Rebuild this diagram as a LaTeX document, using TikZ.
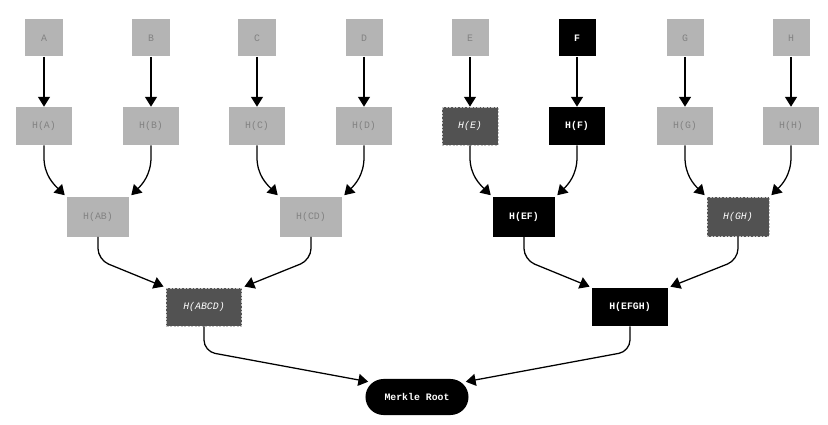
\documentclass[tikz,border=0pt]{standalone}
\usepackage{fontspec}
\setmonofont{Liberation Mono}
\usetikzlibrary{arrows.meta,shapes.misc}
\definecolor{fadedfill}{RGB}{180,180,180}
\definecolor{fadedtext}{RGB}{130,130,130}
\definecolor{prooffill}{RGB}{82,82,82}
\definecolor{proofline}{RGB}{195,195,195}

\begin{document}
\begin{tikzpicture}[x=0.025cm,y=0.025cm,
                every node/.style={font=\ttfamily\fontsize{7}{8}\selectfont,inner sep=0pt},
                leaf/.style={minimum width=0.925cm,minimum height=0.925cm},
                hashbox/.style={minimum width=1.4cm,minimum height=0.95cm},
                pairbox/.style={minimum width=1.55cm,minimum height=0.975cm},
                quadbox/.style={minimum width=1.875cm,minimum height=0.95cm},
                faded/.style={fill=fadedfill,text=fadedtext},
                proof/.style={fill=prooffill,draw=proofline,line width=0.5pt,
                    dash pattern=on 1.5pt off 1pt,text=white,font=\ttfamily\itshape\fontsize{7}{8}\selectfont},
                onpath/.style={fill=black,text=white,font=\ttfamily\bfseries\fontsize{7}{8}\selectfont},
                link/.style={line width=0.9pt,-{Triangle[width=8.5pt,length=7pt]}}]
                \useasboundingbox (0,0) rectangle (828,-425);

                \node[leaf,faded] (a) at (44,-38) {A};
                \node[leaf,faded] (b) at (151,-38) {B};
                \node[leaf,faded] (c) at (257,-38) {C};
                \node[leaf,faded] (d) at (364,-38) {D};
                \node[leaf,faded] (e) at (470,-38) {E};
                \node[leaf,onpath] (f) at (577,-38) {F};
                \node[leaf,faded] (g) at (685,-38) {G};
                \node[leaf,faded] (h) at (791,-38) {H};

                \node[hashbox,faded] (ha) at (44,-126) {H(A)};
                \node[hashbox,faded] (hb) at (151,-126) {H(B)};
                \node[hashbox,faded] (hc) at (257,-126) {H(C)};
                \node[hashbox,faded] (hd) at (364,-126) {H(D)};
                \node[hashbox,proof] (he) at (470,-126) {H(E)};
                \node[hashbox,onpath] (hf) at (577,-126) {H(F)};
                \node[hashbox,faded] (hg) at (685,-126) {H(G)};
                \node[hashbox,faded] (hh) at (791,-126) {H(H)};

                \node[pairbox,faded] (hab) at (98,-217) {H(AB)};
                \node[pairbox,faded] (hcd) at (311,-217) {H(CD)};
                \node[pairbox,onpath] (hef) at (524,-217) {H(EF)};
                \node[pairbox,proof] (hgh) at (738,-217) {H(GH)};

                \node[quadbox,proof] (habcd) at (204,-307) {H(ABCD)};
                \node[quadbox,onpath] (hefgh) at (630,-307) {H(EFGH)};

                \node[rounded rectangle,onpath,minimum width=2.575cm,minimum height=0.9cm] (root) at (417,-397) {Merkle Root};

                \foreach \from/\to in {a/ha,b/hb,c/hc,d/hd,e/he,f/hf,g/hg,h/hh}
                    \draw[link] (\from) -- (\to);

                \foreach \from/\to/\side/\ang in {ha/hab/north west/135,hb/hab/north east/45,
                    hc/hcd/north west/135,hd/hcd/north east/45,he/hef/north west/135,
                    hf/hef/north east/45,hg/hgh/north west/135,hh/hgh/north east/45}
                    \draw[link,shorten >=2pt] (\from.south) -- ++(0,-12) to[out=-90,in=\ang] (\to.\side);

                \draw[link,rounded corners=8pt,shorten >=2pt] (hab.south) -- ++(0,-23) -- (habcd.north west);
                \draw[link,rounded corners=8pt,shorten >=2pt] (hcd.south) -- ++(0,-23) -- (habcd.north east);
                \draw[link,rounded corners=8pt,shorten >=2pt] (hef.south) -- ++(0,-23) -- (hefgh.north west);
                \draw[link,rounded corners=8pt,shorten >=2pt] (hgh.south) -- ++(0,-23) -- (hefgh.north east);

                \draw[link,rounded corners=8pt,shorten >=3pt] (habcd.south) -- ++(0,-25) -- (root.162);
                \draw[link,rounded corners=8pt,shorten >=3pt] (hefgh.south) -- ++(0,-25) -- (root.18);
\end{tikzpicture}
\end{document}
